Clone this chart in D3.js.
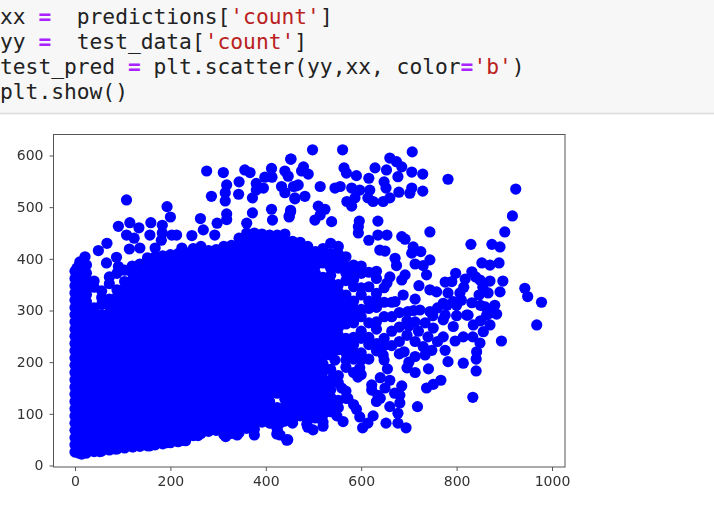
<!DOCTYPE html>
<meta charset="utf-8">
<style>
    body { margin: 0; background: #fff; }
    svg { filter: blur(0.45px); }
    .code { font-family: "DejaVu Sans Mono", monospace; font-size: 21.25px; white-space: pre; }
    .tick text { font-family: "DejaVu Sans", sans-serif; font-size: 14px; fill: #333; }
</style>
<script src="https://d3js.org/d3.v7.min.js"></script>
<div id="my_dataviz"></div>
<script>
    // code cell text, each line split in [text, kind]
    var codeLines = [
        [["xx ", "p"], ["=", "o"], ["  predictions[", "p"], ["'count'", "s"], ["]", "p"]],
        [["yy ", "p"], ["=", "o"], ["  test_data[", "p"], ["'count'", "s"], ["]", "p"]],
        [["test_pred ", "p"], ["=", "o"], [" plt.scatter(yy,xx, color", "p"], ["=", "o"], ["'b'", "s"], [")", "p"]],
        [["plt.show()", "p"]]
    ];
    var xTicks = [0, 200, 400, 600, 800, 1000];
    var yTicks = [0, 100, 200, 300, 400, 500, 600];

    // the solid mass: actual count of a column, then predicted counts read in that column
    var massX = [0, 8, 24, 40, 56, 72, 88, 104, 120, 136, 152, 168, 184, 200, 216, 232, 248, 264, 280, 296, 312, 328, 344, 360, 376, 392, 408, 424, 440,
        456, 472, 488, 504, 520, 536, 552, 568, 584, 600, 616, 632, 648, 664, 680, 696];
    var massY = [
        [26,40,54,68,82,96,110,124,138,152,166,180,194,208,222,236,250,264,278,292,306,320,334,348,362,376],
        [24,38,52,66,80,94,108,122,136,150,164,178,192,206,220,234,248,262,276,290,304,318,332,346,360,374,386],
        [24,37,51,65,79,93,107,121,135,149,163,177,191,205,219,233,247,261,275,289,303,317,331,345,359,372,388],
        [27,41,55,69,83,97,111,125,139,153,167,181,195,209,223,237,251,265,279,293,305,345,357],
        [28,42,56,70,84,98,112,126,140,154,168,182,196,210,224,238,252,266,280,292,312,325,338],
        [30,44,58,72,86,100,114,128,142,156,170,184,198,212,226,240,254,268,282,296,310,322,352,365],
        [32,46,60,74,88,102,116,130,144,158,172,186,200,214,228,242,256,270,284,298,312,326,340,372],
        [34,48,62,76,90,104,118,132,146,160,174,188,202,216,230,244,258,272,286,300,314,328,342,356,378],
        [36,50,64,78,92,106,120,134,148,162,176,190,204,218,232,246,260,274,288,302,316,330,344,358,372,386],
        [37,51,65,79,93,107,121,135,149,163,177,191,205,219,233,247,261,275,289,303,317,331,345,359,373,390],
        [38,52,66,80,94,108,122,136,150,164,178,192,206,220,234,248,262,276,290,304,318,332,346,360,374,388,402],
        [40,54,68,82,96,110,124,138,152,166,180,194,208,222,236,250,264,278,292,306,320,334,348,362,376,390,404],
        [42,56,70,84,98,112,126,140,154,168,182,196,210,224,238,252,266,280,294,308,322,336,350,364,378,392,406],
        [44,58,72,86,100,114,128,142,156,170,184,198,212,226,240,254,268,282,296,310,324,338,352,366,380,394,408],
        [46,60,74,88,102,116,130,144,158,172,186,200,214,228,242,256,270,284,298,312,326,340,354,368,382,396,410],
        [48,62,76,90,104,118,132,146,160,174,188,202,216,230,244,258,272,286,300,314,328,342,356,370,384,398,412],
        [58,72,86,100,114,128,142,156,170,184,198,212,226,240,254,268,282,296,310,324,338,352,366,380,394,408,420],
        [62,76,90,104,118,132,146,160,174,188,202,216,230,244,258,272,286,300,314,328,342,356,370,384,398,412,424],
        [66,80,94,108,122,136,150,164,178,192,206,220,234,248,262,276,290,304,318,332,346,360,374,388,402,416],
        [68,82,96,110,124,138,152,166,180,194,208,222,236,250,264,278,292,306,320,334,348,362,376,390,404,418],
        [60,74,88,102,116,130,144,158,172,186,200,214,228,242,256,270,284,298,312,326,340,354,368,382,396,410,424],
        [62,76,90,104,118,132,146,160,174,188,202,216,230,244,258,272,286,300,314,328,342,356,370,384,398,412,426],
        [64,78,92,106,120,134,148,162,176,190,204,218,232,246,260,274,288,302,316,330,344,358,372,386,400,414,428,440],
        [72,86,100,114,128,142,156,170,184,198,212,226,240,254,268,282,296,310,324,338,352,366,380,394,408,422,436,450],
        [70,84,98,112,126,140,154,168,182,196,210,224,238,252,266,280,294,308,322,336,350,364,378,392,406,420,434,450],
        [84,98,112,126,140,154,168,182,196,210,224,238,252,266,280,294,308,322,336,350,364,378,392,406,420,434,448],
        [82,96,110,124,138,152,166,180,194,208,222,236,250,264,278,292,306,320,334,348,362,376,390,404,418,432,446],
        [70,84,98,112,140,154,168,182,196,210,224,238,252,266,280,294,308,322,336,350,364,378,392,406,420,434,446],
        [86,100,114,128,142,156,170,184,198,212,226,240,254,268,282,296,310,324,338,352,366,380,394,408,422,436,448],
        [84,98,112,126,140,154,168,182,196,210,224,238,252,266,280,294,308,322,336,350,364,378,392,406,420,434],
        [96,110,124,138,152,166,180,194,208,222,236,250,264,278,292,306,320,334,348,362,376,390,404,418,432],
        [74,88,102,116,130,144,158,172,186,200,214,228,242,256,270,284,298,312,326,340,354,368,382,396,410,424],
        [92,106,120,134,148,162,176,190,204,218,232,246,260,274,288,302,316,330,344,358,372,386,400,414],
        [84,98,112,126,140,154,168,182,196,210,224,238,252,266,280,294,308,322,336,350,364,392,406,420],
        [104,118,132,146,160,186,214,228,242,256,270,284,298,312,326,340,354,368,382,396,410,430],
        [112,126,160,174,224,238,252,266,280,294,308,322,336,350,382,396,410,424],
        [130,144,190,204,218,232,246,274,288,302,316,330,358,372,386,404],
        [118,180,206,220,234,248,276,290,304,318,346,360,374,388],
        [176,204,218,246,260,288,302,330,344,372,386],
        [206,234,248,276,304,318,346,374],
        [222,236,264,278,306,320,362,376],
        [204,232,246,288,316,344],
        [232,260,288,316],
        [240,268,296],
        [252,280]
    ];

    // points that stand out on the edges, as [actual, predicted]
    var loosePoints = [
        [108,514],[193,501],[200,481],[263,478],[276,570],[286,521],[311,567],[318,543],[315,528],[315,512],[318,487],[318,476],
        [298,469],[344,549],[343,525],[356,572],[367,567],[380,546],[380,533],[395,537],[372,518],[398,558],[412,575],[413,558],
        [452,593],[440,570],[447,560],[433,540],[440,528],[463,541],[461,518],[412,496],[414,475],[372,489],[452,491],[449,483],
        [360,469],[269,456],[293,446],[245,445],[213,446],[203,446],[183,465],[183,450],[181,436],[159,470],[134,460],[115,470],
        [91,463],[108,446],[124,440],[67,430],[49,416],[21,404],[10,394],[4,382],[66,392],[87,403],[91,385],[114,419],[136,421],
        [157,446],[168,421],[224,421],
        [498,611],[561,611],[707,607],[453,593],[479,578],[475,570],[489,564],[458,540],[468,543],[514,540],[461,516],[482,521],
        [564,576],[569,566],[590,561],[629,576],[616,556],[660,595],[674,588],[685,578],[653,572],[706,568],[729,564],[677,559],
        [648,549],[782,554],[924,535],[917,483],[901,452],[744,452],[706,537],[729,531],[702,527],[679,529],[660,518],[646,511],
        [652,537],[625,511],[614,518],[618,533],[597,533],[580,537],[556,540],[545,537],[587,518],[570,511],[580,502],[452,494],
        [449,481],[510,502],[524,496],[514,485],[503,475],[596,473],[594,462],[635,473],[538,472],[594,450],[635,446],[654,446],
        [685,443],[692,438],[616,436],[830,428],[874,428],[891,423],[709,423],[706,411],[725,414],[744,398],[713,390],[730,387],
        [737,369],[889,392],[853,392],[870,388],[832,375],[798,372],[897,357],[943,343],[949,327],[978,316],[891,336],[866,334],
        [847,330],[870,357],[849,359],[818,361],[776,355],[790,356],[721,348],[744,340],[758,336],[782,334],[807,334],[832,315],
        [772,314],[793,317],[713,322],[744,298],[723,301],[698,298],[860,307],[884,293],[870,295],[776,291],[824,291],
        [968,272],[894,241],[863,291],[870,272],[856,259],[849,237],[842,220],[841,206],[814,198],[841,183],[834,132],[782,201],
        [776,223],[797,241],[814,249],[834,249],[772,249],[793,269],[821,291],[835,272],[772,282],[713,278],[734,276],[751,266],
        [740,249],[713,240],[748,223],[734,214],[713,211],[680,216],[646,214],[741,187],[696,189],[713,180],[767,165],[751,157],
        [737,150],[718,114],[655,187],[660,165],[622,156],[622,146],[685,154],[681,136],[635,136],[632,124],[660,114],[681,121],
        [677,101],[625,96],[614,82],[603,73],[652,82],[677,82],[694,73],[590,109],[597,94],[562,85],[549,96],[572,130],[559,150],
        [541,171],[593,171],[597,189],[545,204],[520,76],[499,69],[486,80],[456,82],[444,49],[430,59],[430,82],[446,50],[423,61],
        [376,59],[340,59],[316,56],[258,58],[226,49],[412,82],[14,22],[52,27],[84,32],[122,36],[157,38],[192,44],[220,48],
        [640,170],[650,150],[640,130],[670,140],[700,200],[690,220],[730,230],[760,240],[750,290],[800,290],[800,310],[850,280],
        [760,305],[710,300],[700,270],[720,260],[780,310],[810,320],[850,310],[880,310],[855,345],[840,365],[815,345],
        [639,417],[650,415],[671,401],[674,387],[660,365],[692,369],[654,353],[685,359],[671,317],[688,330],[632,333]
    ];

    var margin = { top: 134.5, right: 149, bottom: 59, left: 53.5 },
        width = 714,
        height = 526,
        zeroX = 75,
        zeroY = 465.5;

    var svg = d3.select("#my_dataviz")
        .append("svg")
        .attr("width", width)
        .attr("height", height)
        .style("display", "block");

    // code cell
    svg.append("rect")
        .attr("width", width)
        .attr("height", 113)
        .attr("fill", "#f7f7f7");
    svg.append("line")
        .attr("x1", 0).attr("x2", width)
        .attr("y1", 113.5).attr("y2", 113.5)
        .attr("stroke", "#dcdcdc")
        .attr("stroke-width", 1.5);

    var code = svg.append("g")
        .selectAll("text")
        .data(codeLines)
        .enter()
        .append("text")
        .attr("class", "code")
        .attr("x", 0)
        .attr("y", function(d, i) { return 24 + i * 25; });
    code.selectAll("tspan")
        .data(function(d) { return d; })
        .enter()
        .append("tspan")
        .text(function(d) { return d[0]; })
        .attr("font-weight", function(d) { return d[1] == "o" ? "bold" : null; })
        .attr("fill", function(d) {
            return d[1] == "o" ? "#aa22ff" : d[1] == "s" ? "#ba2121" : "#222";
        });

    // scales, the data range sits inside the frame like matplotlib's margins
    var x = d3.scaleLinear().domain([0, 1000]).range([zeroX, 552]);
    var y = d3.scaleLinear().domain([0, 600]).range([zeroY, 155.5]);
    var frameRight = width - margin.right,
        frameBottom = height - margin.bottom;

    var plot = svg.append("g");

    // points from the column lists, then the loose ones
    massX.forEach(function(cx, i) {
        plot.selectAll(null)
            .data(massY[i])
            .enter()
            .append("circle")
            .attr("cx", x(cx))
            .attr("cy", function(d) { return y(d); })
            .attr("r", 5.6)
            .attr("fill", "#0000ff");
    });
    plot.selectAll(null)
        .data(loosePoints)
        .enter()
        .append("circle")
        .attr("cx", function(d) { return x(d[0]); })
        .attr("cy", function(d) { return y(d[1]); })
        .attr("r", 5.6)
        .attr("fill", "#0000ff");

    // frame
    svg.append("rect")
        .attr("x", margin.left)
        .attr("y", margin.top)
        .attr("width", frameRight - margin.left)
        .attr("height", frameBottom - margin.top)
        .attr("fill", "none")
        .attr("stroke", "#555")
        .attr("stroke-width", 1);

    // axes
    var xAxis = d3.axisBottom(x).tickValues(xTicks).tickSize(4).tickPadding(5).tickFormat(d3.format("d"));
    var yAxis = d3.axisLeft(y).tickValues(yTicks).tickSize(4).tickPadding(6).tickFormat(d3.format("d"));
    var gx = svg.append("g").attr("transform", "translate(0," + frameBottom + ")").call(xAxis);
    var gy = svg.append("g").attr("transform", "translate(" + margin.left + ",0)").call(yAxis);
    gx.select(".domain").remove();
    gy.select(".domain").remove();
    svg.selectAll(".tick line").attr("stroke", "#555");
</script>
